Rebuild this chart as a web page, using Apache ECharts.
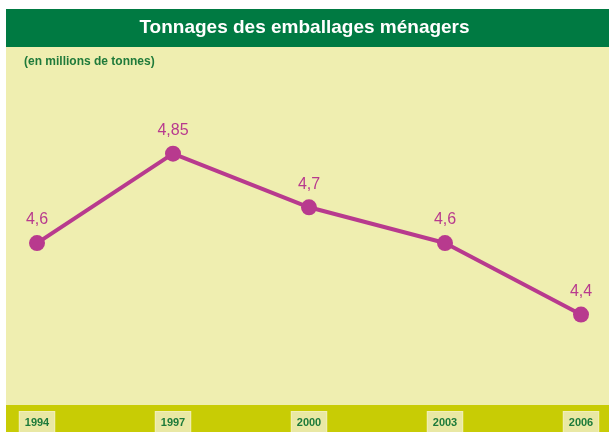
<!DOCTYPE html>
<html>
<head>
<meta charset="utf-8">
<script src="https://cdn.jsdelivr.net/npm/echarts@6/dist/echarts.min.js"></script>
<style>html,body{margin:0;padding:0;background:#fff}#c{width:609px;height:432px}</style>
</head>
<body>
<div id="c"></div>
<script>
var years = ['1994', '1997', '2000', '2003', '2006'];
var tonnages = [4.6, 4.85, 4.7, 4.6, 4.4];
var valueLabels = ['4,6', '4,85', '4,7', '4,6', '4,4'];
var titleText = 'Tonnages des emballages ménagers';
var subtitleText = '(en millions de tonnes)';

var chart = echarts.init(document.getElementById('c'), null, {renderer: 'canvas'});
chart.setOption({
  backgroundColor: '#ffffff',
  animation: false,
  graphic: [
    {type: 'rect', z: -10, shape: {x: 6, y: 9, width: 603, height: 38}, style: {fill: '#007a42'}},
    {type: 'rect', z: -10, shape: {x: 6, y: 47, width: 603, height: 358}, style: {fill: '#efeeb0'}},
    {type: 'rect', z: -10, shape: {x: 6, y: 405, width: 603, height: 27}, style: {fill: '#c8cc05'}},
    {type: 'text', left: 'center', top: 18, style: {text: titleText, fill: '#ffffff', font: 'bold 19px "Liberation Sans", Arial, sans-serif'}},
    {type: 'text', left: 24, top: 56, style: {text: subtitleText, fill: '#1f7a3a', font: 'bold 12px "Liberation Sans Narrow", "Liberation Sans", Arial, sans-serif'}}
  ],
  grid: {left: 37, right: 28, top: 50, bottom: 27, containLabel: false, outerBoundsMode: 'none'},
  xAxis: {
    type: 'category',
    data: years,
    boundaryGap: false,
    axisLine: {show: false},
    axisTick: {show: false},
    splitLine: {show: false},
    axisLabel: {
      margin: 7,
      color: '#1c7a3a',
      fontWeight: 'bold',
      fontSize: 11,
      fontFamily: '"Liberation Sans", Arial, sans-serif',
      backgroundColor: '#e9e8a4',
      borderColor: '#f2f0b8',
      borderWidth: 1,
      padding: [5, 5, 8, 5]
    }
  },
  yAxis: {
    type: 'value',
    min: 4.147,
    max: 5.140,
    show: false,
    splitLine: {show: false}
  },
  series: [{
    type: 'line',
    data: tonnages,
    symbol: 'circle',
    symbolSize: 16,
    lineStyle: {color: '#b83a8e', width: 4},
    itemStyle: {color: '#b83a8e'},
    label: {
      show: true,
      position: 'top',
      distance: 7,
      color: '#b83a8e',
      fontSize: 16,
      fontFamily: '"Liberation Sans", Arial, sans-serif',
      formatter: function (p) { return valueLabels[p.dataIndex]; }
    }
  }]
});
</script>
</body>
</html>
